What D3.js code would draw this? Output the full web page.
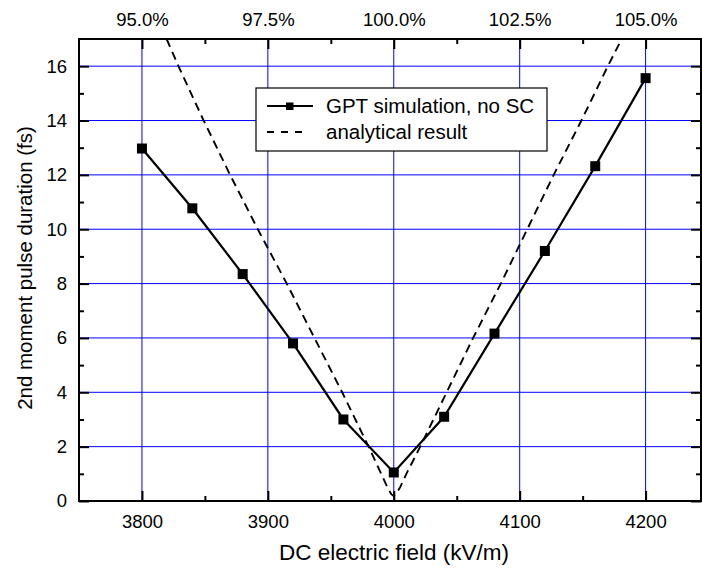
<!DOCTYPE html>
<html>
<head>
<meta charset="utf-8">
<script src="https://cdn.jsdelivr.net/npm/d3@7"></script>
<style>
  body { margin: 0; background: #fff; }
  svg { display: block; font-family: "Liberation Sans", Arial, sans-serif; }
</style>
</head>
<body>
<svg id="chart" width="702" height="569"></svg>
<script>
// GPT simulation, no SC
var gptField    = [3800, 3840, 3880, 3920, 3960, 4000, 4040, 4080, 4120, 4160, 4200],
    gptDuration = [12.97, 10.77, 8.35, 5.8, 3.0, 1.05, 3.1, 6.16, 9.2, 12.32, 15.56]

// analytical result
var anaField    = [3819.6, 3829, 3849, 3870, 3892, 3915, 3937, 3959, 3980, 3990, 3995, 3998, 4000, 4002, 4005, 4010, 4021, 4042, 4063, 4085, 4106, 4127, 4149, 4170, 4181],
    anaDuration = [17, 16, 14, 12, 10, 8, 6, 4, 2, 1, 0.5, 0.25, 0.18, 0.27, 0.5, 1.0, 2, 4, 6, 8, 10, 12, 14, 16, 17]

var xTicks    = [3800, 3900, 4000, 4100, 4200],
    xMinor    = [3850, 3950, 4050, 4150],
    topLabels = ["95.0%", "97.5%", "100.0%", "102.5%", "105.0%"],
    yTicks    = [0, 2, 4, 6, 8, 10, 12, 14, 16],
    yMinor    = [1, 3, 5, 7, 9, 11, 13, 15]

var margin = {top: 39, right: 1, bottom: 68, left: 79},
    width  = 702 - margin.left - margin.right,
    height = 569 - margin.top - margin.bottom

var svg = d3.select("#chart")

var g = svg.append("g")
  .attr("transform", "translate(" + margin.left + "," + margin.top + ")")

var x = d3.scaleLinear()
  .domain([3750, 4244])
  .range([0, width])

var y = d3.scaleLinear()
  .domain([0, 17])
  .range([height, 0])

// grid
g.append("g").selectAll("line").data(xTicks).join("line")
  .attr("x1", d => x(d)).attr("x2", d => x(d))
  .attr("y1", 0).attr("y2", height)
  .attr("stroke", "#0000ff").attr("stroke-width", 1)

g.append("g").selectAll("line").data(yTicks.filter(d => d > 0)).join("line")
  .attr("x1", 0).attr("x2", width)
  .attr("y1", d => y(d)).attr("y2", d => y(d))
  .attr("stroke", "#0000ff").attr("stroke-width", 1)

// analytical dashed line
var line = d3.line()
  .x(d => x(d[0]))
  .y(d => y(d[1]))

g.append("path")
  .datum(anaField.map((f, i) => [f, anaDuration[i]]))
  .attr("fill", "none")
  .attr("stroke", "#000")
  .attr("stroke-width", 1.9)
  .attr("stroke-dasharray", "8.5,5.5")
  .attr("d", line)

// simulation line + squares
var gptData = gptField.map((f, i) => [f, gptDuration[i]])

g.append("path")
  .datum(gptData)
  .attr("fill", "none")
  .attr("stroke", "#000")
  .attr("stroke-width", 2.2)
  .attr("d", line)

g.append("g").selectAll("rect").data(gptData).join("rect")
  .attr("x", d => x(d[0]) - 5)
  .attr("y", d => y(d[1]) - 5)
  .attr("width", 10).attr("height", 10)
  .attr("fill", "#000")

// axes (ticks inward)
function styleAxis(sel) {
  sel.select(".domain").remove()
  sel.selectAll(".tick line").attr("stroke", "#000").attr("stroke-width", 2)
  sel.selectAll(".tick text").attr("font-size", "18.5px").attr("fill", "#000")
    .attr("font-family", "'Liberation Sans', Arial, sans-serif")
}

function minorTicks(axis, vals) {
  return axis.tickValues(vals).tickFormat("")
}

g.append("g")
  .attr("transform", "translate(0," + height + ")")
  .call(d3.axisBottom(x).tickValues(xTicks).tickSizeInner(-10).tickSizeOuter(0).tickPadding(14).tickFormat(d3.format("d")))
  .call(styleAxis)

g.append("g")
  .attr("transform", "translate(0," + height + ")")
  .call(minorTicks(d3.axisBottom(x).tickSizeInner(-5).tickSizeOuter(0), xMinor))
  .call(styleAxis)

g.append("g")
  .call(d3.axisTop(x).tickValues(xTicks).tickSizeInner(-10).tickSizeOuter(0).tickPadding(13)
    .tickFormat((d, i) => topLabels[i]))
  .call(styleAxis)

g.append("g")
  .call(minorTicks(d3.axisTop(x).tickSizeInner(-5).tickSizeOuter(0), xMinor))
  .call(styleAxis)

g.append("g")
  .call(d3.axisLeft(y).tickValues(yTicks).tickSizeInner(-10).tickSizeOuter(0).tickPadding(12))
  .call(styleAxis)

g.append("g")
  .call(minorTicks(d3.axisLeft(y).tickSizeInner(-5).tickSizeOuter(0), yMinor))
  .call(styleAxis)

g.append("g")
  .attr("transform", "translate(" + width + ",0)")
  .call(minorTicks(d3.axisRight(y).tickSizeInner(-10).tickSizeOuter(0), yTicks))
  .call(styleAxis)

g.append("g")
  .attr("transform", "translate(" + width + ",0)")
  .call(minorTicks(d3.axisRight(y).tickSizeInner(-5).tickSizeOuter(0), yMinor))
  .call(styleAxis)

// frame
g.append("rect")
  .attr("width", width).attr("height", height)
  .attr("fill", "none").attr("stroke", "#000").attr("stroke-width", 2)

// legend
var lg = svg.append("g").attr("transform", "translate(256,88)")

lg.append("rect")
  .attr("width", 291).attr("height", 63)
  .attr("fill", "#fff").attr("stroke", "#000").attr("stroke-width", 1.2)

lg.append("line")
  .attr("x1", 11).attr("x2", 57).attr("y1", 18).attr("y2", 18)
  .attr("stroke", "#000").attr("stroke-width", 2.2)
lg.append("rect")
  .attr("x", 30).attr("y", 14.5).attr("width", 7.5).attr("height", 7.5)
  .attr("fill", "#000")
lg.append("line")
  .attr("x1", 11).attr("x2", 53).attr("y1", 44).attr("y2", 44)
  .attr("stroke", "#000").attr("stroke-width", 1.8)
  .attr("stroke-dasharray", "7,7")

lg.selectAll("text").data(["GPT simulation, no SC", "analytical result"]).join("text")
  .attr("x", 70)
  .attr("y", (d, i) => 25 + i * 26)
  .attr("font-size", "20.5px")
  .text(d => d)

// axis titles
svg.append("text")
  .attr("x", margin.left + width / 2 + 4)
  .attr("y", 560)
  .attr("text-anchor", "middle")
  .attr("font-size", "22.5px")
  .text("DC electric field (kV/m)")

svg.append("text")
  .attr("transform", "translate(32," + (margin.top + height / 2 - 2) + ") rotate(-90)")
  .attr("text-anchor", "middle")
  .attr("font-size", "20.5px")
  .text("2nd moment pulse duration (fs)")
</script>
</body>
</html>
